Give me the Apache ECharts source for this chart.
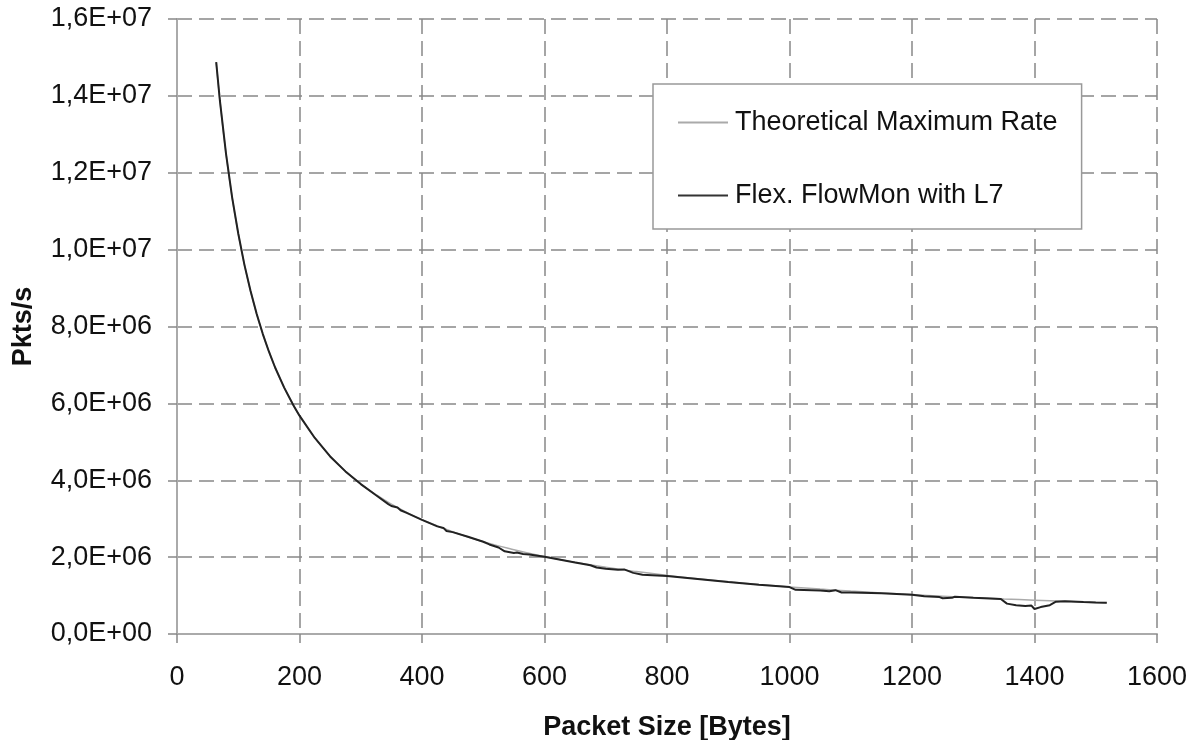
<!DOCTYPE html>
<html>
<head>
<meta charset="utf-8">
<title>Pkts/s vs Packet Size</title>
<script src="https://cdn.jsdelivr.net/npm/echarts@6/dist/echarts.min.js"></script>
<style>
    html, body { margin: 0; padding: 0; background: #fff; }
    #main { width: 1195px; height: 740px; }
</style>
</head>
<body>
<div id="main"></div>
<script>
// packet sizes [Bytes] and rates [Pkts/s]
var theorySizes = [64, 70, 80, 90, 100, 110, 120, 130, 140, 150, 160, 175, 190, 200, 225, 250, 275, 300, 325, 350, 375, 400,
    450, 500, 550, 600, 650, 700, 750, 800, 850, 900, 950, 1000, 1050, 1100, 1150, 1200, 1250, 1300, 1350, 1400, 1450, 1500, 1518];
var theoryRates = [14880000, 13890000, 12500000, 11360000, 10420000, 9615000, 8929000, 8333000, 7813000, 7353000, 6944000,
    6410000, 5952000, 5682000, 5102000, 4630000, 4237000, 3906000, 3623000, 3378000, 3165000, 2976000, 2660000, 2404000,
    2193000, 2016000, 1866000, 1736000, 1623000, 1524000, 1437000, 1359000, 1289000, 1225000, 1168000, 1116000, 1068000,
    1025000, 984000, 947000, 912000, 880000, 850000, 822000, 813000];

var flowSizes = [64, 70, 80, 90, 100, 110, 120, 130, 140, 150, 160, 175, 190, 200, 225, 250, 275, 300, 325, 345, 350, 360,
    365, 375, 400, 425, 435, 440, 450, 475, 500, 510, 525, 535, 550, 555, 565, 575, 600, 650, 675, 685, 700, 720, 730, 745,
    760, 800, 850, 900, 950, 1000, 1010, 1050, 1065, 1075, 1085, 1100, 1150, 1200, 1220, 1245, 1250, 1265, 1270, 1300, 1345,
    1355, 1370, 1385, 1395, 1400, 1410, 1425, 1435, 1450, 1480, 1500, 1518];
var flowRates = [14880000, 13880000, 12500000, 11360000, 10420000, 9610000, 8930000, 8330000, 7810000, 7350000, 6940000,
    6410000, 5950000, 5680000, 5100000, 4620000, 4230000, 3900000, 3610000, 3380000, 3330000, 3290000, 3220000, 3150000,
    2970000, 2800000, 2760000, 2680000, 2650000, 2530000, 2400000, 2330000, 2250000, 2150000, 2110000, 2120000, 2080000,
    2070000, 2010000, 1860000, 1790000, 1730000, 1700000, 1670000, 1680000, 1590000, 1540000, 1510000, 1430000, 1350000,
    1280000, 1220000, 1150000, 1130000, 1110000, 1140000, 1080000, 1080000, 1060000, 1020000, 980000, 960000, 930000,
    940000, 970000, 940000, 910000, 790000, 750000, 730000, 740000, 650000, 700000, 750000, 840000, 850000, 830000, 820000,
    812000];

var seriesNames = ['Theoretical Maximum Rate', 'Flex. FlowMon with L7'];

function pairs(xs, ys) {
    var out = [];
    for (var i = 0; i < xs.length; i++) {
        out.push([xs[i], ys[i]]);
    }
    return out;
}

// 1,6E+07 style labels
function sci(v) {
    if (v === 0) return '0,0E+00';
    var e = Math.floor(Math.log10(v) + 1e-9);
    var m = v / Math.pow(10, e);
    return m.toFixed(1).replace('.', ',') + 'E+' + (e < 10 ? '0' : '') + e;
}

var chart = echarts.init(document.getElementById('main'));
var font = 'Liberation Sans, Arial, sans-serif';

var option = {
    animation: false,
    backgroundColor: '#fff',
    textStyle: { fontFamily: font, color: '#111' },
    grid: { left: 177, top: 19, width: 980, height: 615, containLabel: false, outerBoundsMode: 'none' },
    legend: {
        orient: 'vertical',
        left: 653,
        top: 84,
        padding: [25, 24, 20, 25],
        itemGap: 46,
        itemWidth: 50,
        itemHeight: 2,
        icon: 'rect',
        borderColor: '#999',
        borderWidth: 1.5,
        backgroundColor: '#fff',
        textStyle: { fontFamily: font, fontSize: 27, color: '#111', padding: [0, 0, 0, 2] },
        data: seriesNames
    },
    xAxis: {
        type: 'value',
        min: 0,
        max: 1600,
        interval: 200,
        name: 'Packet Size [Bytes]',
        nameLocation: 'middle',
        nameGap: 80,
        nameTextStyle: { fontFamily: font, fontSize: 27, fontWeight: 'bold', color: '#111' },
        axisLine: { show: true, onZero: false, lineStyle: { color: '#aaa', width: 2 } },
        axisTick: { show: true, length: 9, lineStyle: { color: '#888', width: 1.5 } },
        axisLabel: { fontSize: 27, color: '#111', margin: 30, formatter: function (v) { return String(v); } },
        splitLine: { show: true, lineStyle: { color: '#888', width: 1.5, type: [15, 7] } }
    },
    yAxis: {
        type: 'value',
        min: 0,
        max: 16000000,
        interval: 2000000,
        name: 'Pkts/s',
        nameLocation: 'middle',
        nameGap: 140,
        nameTextStyle: { fontFamily: font, fontSize: 27, fontWeight: 'bold', color: '#111' },
        axisLine: { show: true, lineStyle: { color: '#aaa', width: 2 } },
        axisTick: { show: true, length: 9, lineStyle: { color: '#888', width: 1.5 } },
        axisLabel: { fontSize: 27, color: '#111', margin: 25, formatter: sci },
        splitLine: { show: true, lineStyle: { color: '#888', width: 1.5, type: [15, 7] } }
    },
    series: [{
        name: seriesNames[0],
        type: 'line',
        showSymbol: false,
        symbol: 'none',
        smooth: true,
        lineStyle: { color: '#aaa', width: 1.5 },
        itemStyle: { color: '#aaa' },
        data: pairs(theorySizes, theoryRates)
    }, {
        name: seriesNames[1],
        type: 'line',
        showSymbol: false,
        symbol: 'none',
        lineStyle: { color: '#222', width: 2 },
        itemStyle: { color: '#333' },
        data: pairs(flowSizes, flowRates)
    }]
};

chart.setOption(option);
</script>
</body>
</html>
